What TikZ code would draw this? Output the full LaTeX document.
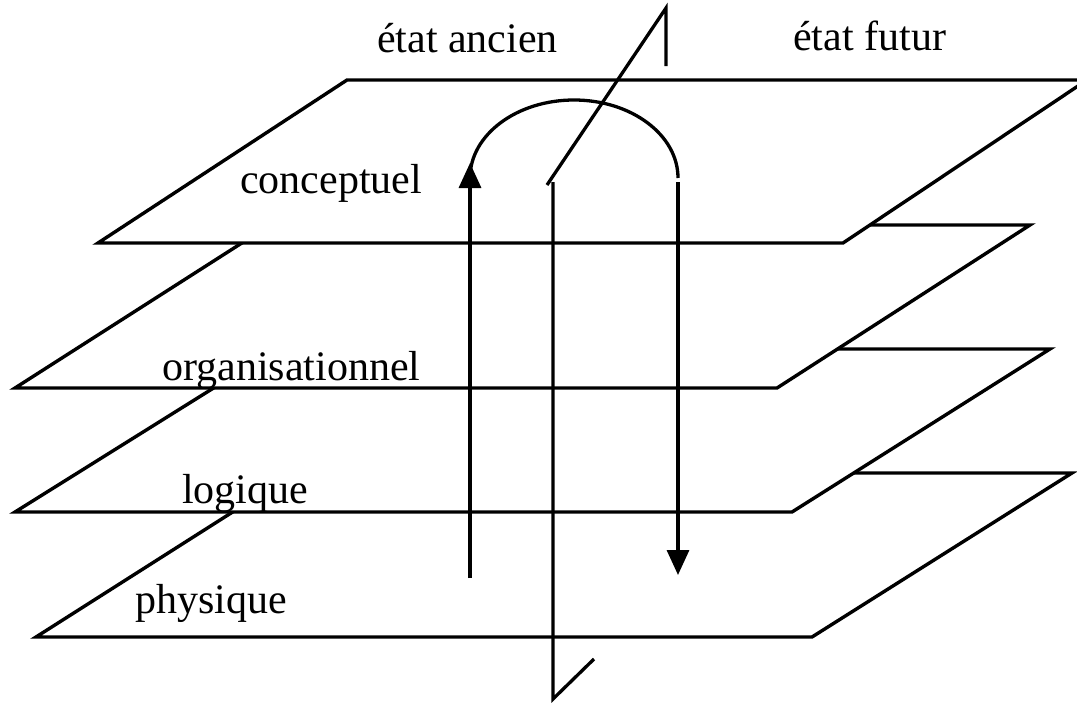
\documentclass[tikz,border=0pt]{standalone}
\usepackage{fontspec}
\setmainfont{Liberation Serif}
\usetikzlibrary{arrows.meta}
\begin{document}
\begin{tikzpicture}[x=1pt,y=-1pt,
  plane/.style={draw=black,fill=white,line width=3.4pt},
  ln/.style={draw=black,line width=3.3pt},
  arr/.style={ln,-{Triangle[length=25pt,width=22pt]}},
  lbl/.style={anchor=base west,inner sep=0pt,font=\fontsize{42}{48}\selectfont}]
\useasboundingbox (0,0) rectangle (1077,702);
\clip (0,0) rectangle (1077,702);
% planes, from bottom to top
\path[plane] (36,637) -- (812,637) -- (1072,473) -- (294,473) -- cycle;
\path[plane] (15,512) -- (792,512) -- (1050,349) -- (276,349) -- cycle;
\path[plane] (15,388) -- (777,388) -- (1030,225) -- (270,225) -- cycle;
\path[plane] (98,243) -- (843,243) -- (1087,80) -- (347,80) -- cycle;
% labels
\node[lbl] (ancien) at (377,52) {état ancien};
\node[lbl] (futur) at (793,50) {état futur};
\node[lbl] (concept) at (240,193) {conceptuel};
\node[lbl] (orga) at (162,380) {organisationnel};
\node[lbl] (logi) at (182,503) {logique};
\node[lbl] (phys) at (135,613) {physique};
% coordinates
\coordinate (upS) at (470,578);
\coordinate (upE) at (470,163);
\coordinate (arcS) at (678,178);
\coordinate (dnS) at (678,182);
\coordinate (dnE) at (678,575);
\coordinate (vT) at (553,182);
\coordinate (vB) at (553,699);
\coordinate (vBd) at (594,659);
\coordinate (dS) at (547,185);
\coordinate (dT) at (666,8);
\coordinate (dTb) at (666,66);
% vertical plane
\draw[ln] (vT) -- (vB) -- (vBd);
\draw[ln] (dS) -- (dT) -- (dTb);
% arrows
\draw[arr] (upS) -- (upE);
\draw[ln] (arcS) arc[start angle=0,end angle=-180,x radius=104,y radius=78];
\draw[arr] (dnS) -- (dnE);
\end{tikzpicture}
\end{document}
